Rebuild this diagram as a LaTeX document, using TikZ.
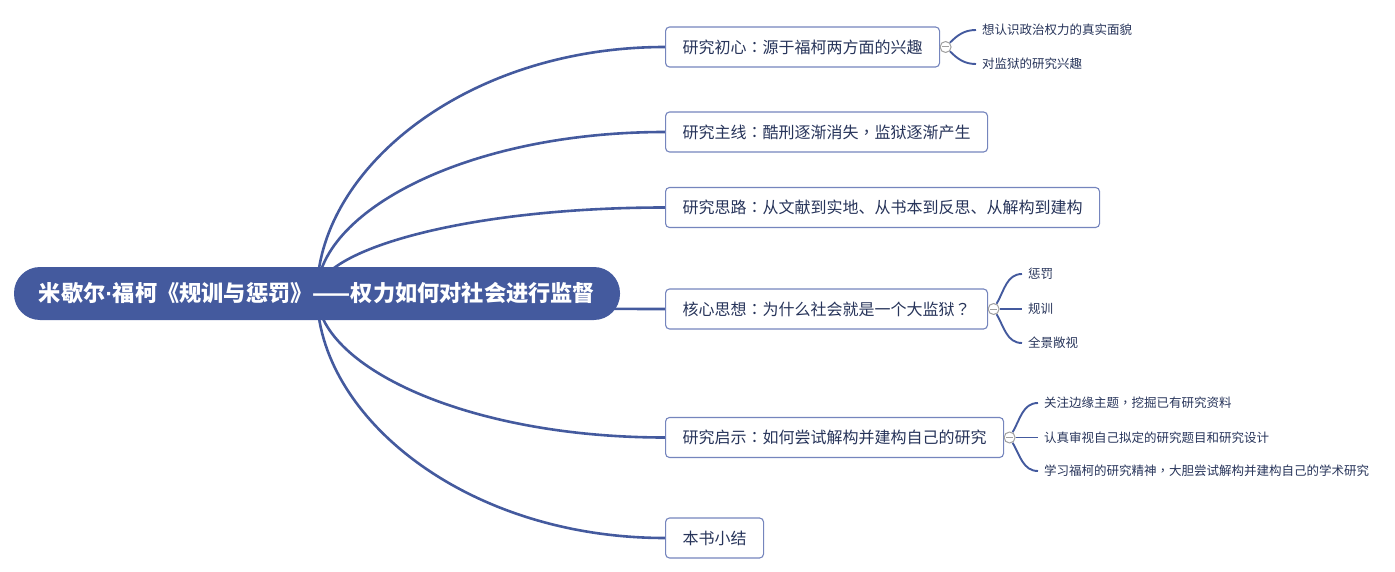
\documentclass[tikz,border=0pt]{standalone}
\usepackage{fontspec}
\setmainfont{Noto Sans CJK SC}
\newfontfamily\tcpunct{Noto Sans CJK TC}
\newfontfamily\latinbold{Liberation Sans}
\newcommand\pq[1]{{\tcpunct #1}}
\usetikzlibrary{calc}
\pgfdeclarelayer{bg}
\pgfsetlayers{bg,main}
\definecolor{mainblue}{HTML}{445A9E}
\definecolor{framecol}{HTML}{7585BD}
\definecolor{txtcol}{HTML}{27345A}
\definecolor{togglecol}{HTML}{A0A0A0}
\tikzset{
  rootnode/.style={fill=mainblue, rounded corners=26pt, minimum width=606pt, minimum height=53pt, inner sep=0pt, text=white, font=\fontsize{22.2}{26}\selectfont\bfseries},
  branch/.style={draw=framecol, line width=1.1pt, rounded corners=4pt, fill=white, minimum height=40pt, inner xsep=17pt, inner ysep=0pt, text=txtcol, font=\fontsize{16}{19}\selectfont, anchor=west},
  leaf/.style={inner xsep=6pt, inner ysep=1pt, text=txtcol, font=\fontsize{12.5}{15}\selectfont, anchor=west},
  mainconn/.style={draw=mainblue, line width=2.6pt},
  leafconn/.style={draw=mainblue, line width=1.9pt},
  toggle/.style={circle, draw=togglecol, fill=white, line width=1pt, minimum size=11pt, inner sep=0pt,
    path picture={\draw[togglecol, line width=1pt] ([xshift=-3.5pt]path picture bounding box.center) -- ([xshift=3.5pt]path picture bounding box.center);}}
}
\newcommand\rootlink[1]{\draw[mainconn] (root.center) .. controls ($(root.center)!0.5!(root.center |- #1.west)$) and ($(#1.west)+(-200,0)$) .. (#1.west);}
\newcommand\leafup[3]{\draw[leafconn] (#1) to[out=#3,in=180] (#2.west);}
\newcommand\leafdown[3]{\draw[leafconn] (#1) to[out=-#3,in=180] (#2.west);}
\newcommand\leafmid[2]{\draw[leafconn] (#1) -- (#2.west);}
\begin{document}
\begin{tikzpicture}[x=1pt,y=1pt]
\useasboundingbox (0,0) rectangle (1395,-572);
\node[rootnode] (root) at (317,-293.5) {米歇尔{\latinbold\bfseries ·}福柯《规训与惩罚》——权力如何对社会进行监督};
\node[branch] (b1) at (665,-47) {研究初心\pq{：}源于福柯两方面的兴趣};
\node[branch] (b2) at (665,-132) {研究主线\pq{：}酷刑逐渐消失\pq{，}监狱逐渐产生};
\node[branch] (b3) at (665,-207.5) {研究思路\pq{：}从文献到实地、从书本到反思、从解构到建构};
\node[branch] (b4) at (665,-309) {核心思想\pq{：}为什么社会就是一个大监狱\pq{？}};
\node[branch] (b5) at (665,-437.5) {研究启示\pq{：}如何尝试解构并建构自己的研究};
\node[branch] (b6) at (665,-538) {本书小结};
\node[toggle] (t1) at ($(b1.east)+(5.5,0)$) {};
\node[toggle] (t4) at ($(b4.east)+(5.5,0)$) {};
\node[toggle] (t5) at ($(b5.east)+(5.5,0)$) {};
\node[leaf] (l11) at (976,-30) {想认识政治权力的真实面貌};
\node[leaf] (l12) at (976,-64) {对监狱的研究兴趣};
\node[leaf] (l41) at (1022,-274) {惩罚};
\node[leaf] (l42) at (1022,-309) {规训};
\node[leaf] (l43) at (1022,-343) {全景敞视};
\node[leaf] (l51) at (1038,-403) {关注边缘主题\pq{，}挖掘已有研究资料};
\node[leaf] (l52) at (1038,-437.5) {认真审视自己拟定的研究题目和研究设计};
\node[leaf] (l53) at (1038,-471) {学习福柯的研究精神\pq{，}大胆尝试解构并建构自己的学术研究};
\begin{pgfonlayer}{bg}
\rootlink{b1}
\rootlink{b2}
\rootlink{b3}
\rootlink{b4}
\rootlink{b5}
\rootlink{b6}
\leafup{t1}{l11}{45}
\leafdown{t1}{l12}{45}
\leafup{t4}{l41}{60}
\leafmid{t4}{l42}
\leafdown{t4}{l43}{60}
\leafup{t5}{l51}{60}
\leafmid{t5}{l52}
\leafdown{t5}{l53}{60}
\end{pgfonlayer}
\end{tikzpicture}
\end{document}
